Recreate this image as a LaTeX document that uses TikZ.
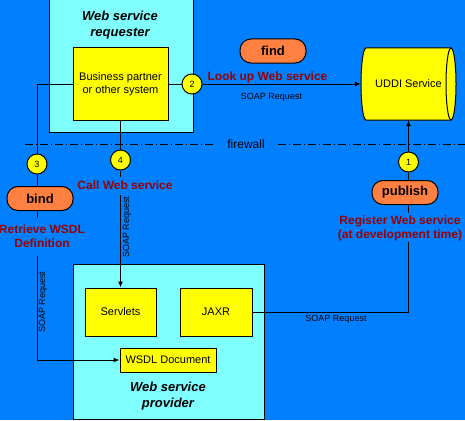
\documentclass[tikz,border=0pt]{standalone}
\usepackage{fontspec}
\setmainfont{Liberation Sans}
\usetikzlibrary{arrows.meta}
\definecolor{bg}{RGB}{0,128,255}
\definecolor{cyanc}{RGB}{128,255,255}
\definecolor{yel}{RGB}{255,255,0}
\definecolor{orangec}{RGB}{255,128,64}
\definecolor{darkred}{RGB}{153,0,0}
\begin{document}
\begin{tikzpicture}[yscale=-1,x=1pt,y=1pt,
  box/.style={draw=black, line width=1pt, inner sep=0pt, font=\fontsize{11}{13}\selectfont, align=center},
  cyanbox/.style={box, fill=cyanc},
  ybox/.style={box, fill=yel},
  pill/.style={draw=black, line width=1pt, fill=orangec, rounded corners=11pt, minimum width=66pt, minimum height=24pt, inner sep=0pt, font=\bfseries\fontsize{13}{15}\selectfont},
  num/.style={circle, draw=black, line width=1pt, fill=yel, minimum size=20pt, inner sep=0pt, font=\fontsize{9}{10}\selectfont},
  lbl/.style={text=darkred, font=\bfseries\fontsize{12}{14.5}\selectfont, align=center, inner sep=1pt},
  soap/.style={font=\fontsize{9}{10}\selectfont, inner sep=0pt},
  titletext/.style={font=\bfseries\itshape\fontsize{13}{16}\selectfont, align=center, inner sep=0pt},
  conn/.style={line width=1pt},
  arr/.style={conn, -{Latex[length=6pt,width=5pt]}}
]
\useasboundingbox (0,0) rectangle (465,420);
\fill[bg] (0,0) rectangle (465,420);

% firewall
\coordinate (fwl) at (25,144);
\coordinate (fwr) at (465,144);
\node[font=\fontsize{12}{14}\selectfont, inner ysep=0pt, inner xsep=13pt] (fw) at (246,144) {firewall};
\draw[conn, dash pattern=on 8pt off 3pt on 1pt off 3pt] (fwl) -- (fw.west);
\draw[conn, dash pattern=on 8pt off 3pt on 1pt off 3pt] (fw.east) -- (fwr);

% requester
\node[cyanbox, minimum width=144pt, minimum height=132pt] (req) at (121,66) {};
\node[titletext] (reqt) at (120,25) {Web service\\requester};
\node[ybox, minimum width=95pt, minimum height=72pt] (bp) at (120.5,84) {Business partner\\or other system};

% provider
\node[cyanbox, minimum width=191pt, minimum height=155pt] (prov) at (168.5,341.5) {};
\node[titletext] (provt) at (168,396) {Web service\\provider};
\node[ybox, minimum width=71pt, minimum height=48pt] (serv) at (120.5,312) {Servlets};
\node[ybox, minimum width=72pt, minimum height=48pt] (jaxr) at (216,312) {JAXR};
\node[ybox, minimum width=96pt, minimum height=24pt] (wsdl) at (168,360) {WSDL Document};

% UDDI cylinder
\filldraw[fill=yel, draw=black, line width=1pt] (366,48) -- (451,48) arc (-90:90:5 and 36) -- (366,120) arc (90:270:5 and 36) -- cycle;
\draw[line width=1pt] (451,48) arc (270:90:5 and 36);
\node[inner sep=0pt, minimum width=95pt, minimum height=72pt, font=\fontsize{11}{13}\selectfont] (uddi) at (408.5,84) {UDDI Service};

% pills
\node[pill] (find) at (273,51) {find};
\node[pill] (bind) at (40,198.5) {bind};
\node[pill] (pub) at (405,192.5) {publish};

% numbered circles
\node[num] (c2) at (192,84) {2};
\node[num] (c3) at (37,164) {3};
\node[num] (c4) at (120.5,160) {4};
\node[num] (c1) at (408.5,162) {1};

% labels
\node[lbl] (look) at (267.5,77) {Look up Web service};
\node[soap] (soap1) at (271.5,97) {SOAP Request};
\node[lbl] (call) at (125,185) {Call Web service};
\node[soap, rotate=90] (soap2) at (127,227) {SOAP Request};
\node[lbl] (retr) at (42,236) {Retrieve WSDL\\Definition};
\node[soap, rotate=90] (soap4) at (43,302) {SOAP Request};
\node[lbl] (reg) at (400,228.5) {Register Web service\\(at development time)};
\node[soap] (soap3) at (336,319) {SOAP Request};

% coordinates for free ends
\coordinate (r0) at (37,218);
\coordinate (r1) at (37,256);
\coordinate (k0) at (120.5,177);
\coordinate (k1) at (120.5,195);
\coordinate (p0) at (408.5,213);
\coordinate (p1) at (408.5,242);

% connectors
\draw[conn] (bp.east) -- (c2);
\draw[arr] (c2) -- (uddi.west);
\draw[conn] (bp.west) -| (c3);
\draw[conn] (c3) -- (c3 |- bind.north);
\draw[conn] (c3 |- bind.south) -- (r0);
\draw[arr] (r1) |- (wsdl.west);
\draw[conn] (bp.south) -- (c4);
\draw[conn] (c4) -- (k0);
\draw[arr] (k1) -- (serv.north);
\draw[arr] (c1) -- (uddi.south);
\draw[conn] (c1) -- (c1 |- pub.north);
\draw[conn] (c1 |- pub.south) -- (p0);
\draw[conn] (jaxr.east) -| (p1);
\end{tikzpicture}
\end{document}
